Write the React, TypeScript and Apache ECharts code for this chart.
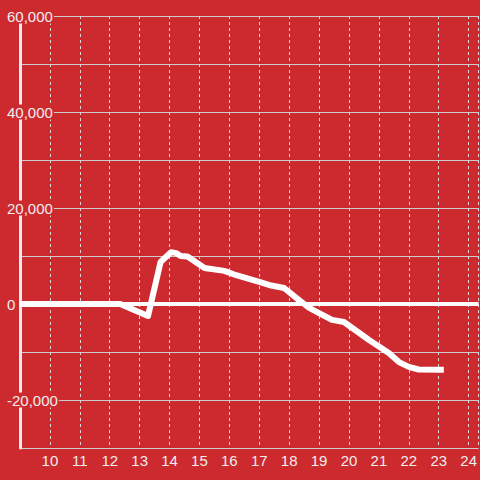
import React, { useEffect, useRef } from "react";
import * as echarts from "echarts";

const hours = [9, 12.35, 13.28, 13.7, 14.05, 14.23, 14.37, 14.6, 15.17, 15.83, 16.23, 17.0, 17.4, 17.83, 18.33, 18.67, 19.0, 19.43, 19.83, 20.67, 21.33, 21.67, 22.0, 22.33, 23.17];
const values = [0, 0, -2500, 8750, 10800, 10600, 10000, 9900, 7500, 6900, 6000, 4600, 3850, 3330, 800, -800, -1900, -3300, -3750, -7500, -10200, -12100, -13100, -13650, -13700];
const yLabelValues = [-20000, 0, 20000, 40000, 60000];

const BG = "#cd2a2f";

export default function App() {
  const ref = useRef<HTMLDivElement>(null);
  useEffect(() => {
    if (!ref.current) return;
    const chart = echarts.init(ref.current, null, { renderer: "svg" });
    const yScale = { type: "value" as const, min: -30000, max: 60000, interval: 10000 };
    chart.setOption({
      animation: false,
      backgroundColor: BG,
      grid: { left: 20, right: 0, top: 16, bottom: 32, containLabel: false },
      xAxis: {
        type: "value",
        min: 9,
        max: 9 + 460 / 30,
        interval: 1,
        z: 0,
        axisLine: { show: false },
        axisTick: { show: false },
        axisLabel: {
          show: true,
          showMinLabel: false,
          showMaxLabel: false,
          color: "#eeeeee",
          fontSize: 15,
          fontFamily: "Liberation Sans, Arial, sans-serif",
          margin: 5,
        },
        splitLine: { show: true, lineStyle: { color: "#d8d8d8", width: 1, type: [3, 3] } },
      },
      yAxis: [
        {
          ...yScale,
          position: "left",
          z: 3,
          axisLine: { show: true, lineStyle: { color: "#eeeeee", width: 3 } },
          axisTick: { show: false },
          splitLine: { show: false },
          axisLabel: {
            show: true,
            align: "left",
            margin: 14,
            color: "#eeeeee",
            fontSize: 15,
            fontFamily: "Liberation Sans, Arial, sans-serif",
            backgroundColor: BG,
            padding: [0, 1, 0, 1],
            lineHeight: 15,
            formatter: (v: number) =>
              yLabelValues.indexOf(v) >= 0 ? v.toLocaleString("en-US") : "",
          },
        },
        {
          ...yScale,
          position: "right",
          z: 0,
          axisLine: { show: false },
          axisTick: { show: false },
          axisLabel: { show: false },
          splitLine: { show: true, lineStyle: { color: "#cccccc", width: 1 } },
        },
      ],
      series: [
        {
          type: "line",
          z: 4,
          xAxisIndex: 0,
          yAxisIndex: 0,
          data: hours.map((h, i) => [h, values[i]]),
          showSymbol: false,
          symbol: "none",
          lineStyle: { color: "#ffffff", width: 6, join: "round" },
          markLine: {
            silent: true,
            symbol: "none",
            label: { show: false },
            lineStyle: { color: "#ffffff", width: 4, type: "solid" },
            data: [{ yAxis: 0 }],
          },
        },
      ],
    });
    return () => chart.dispose();
  }, []);
  return (
    <div
      ref={ref}
      style={{ position: "fixed", left: 0, top: 0, width: 480, height: 480 }}
    />
  );
}
